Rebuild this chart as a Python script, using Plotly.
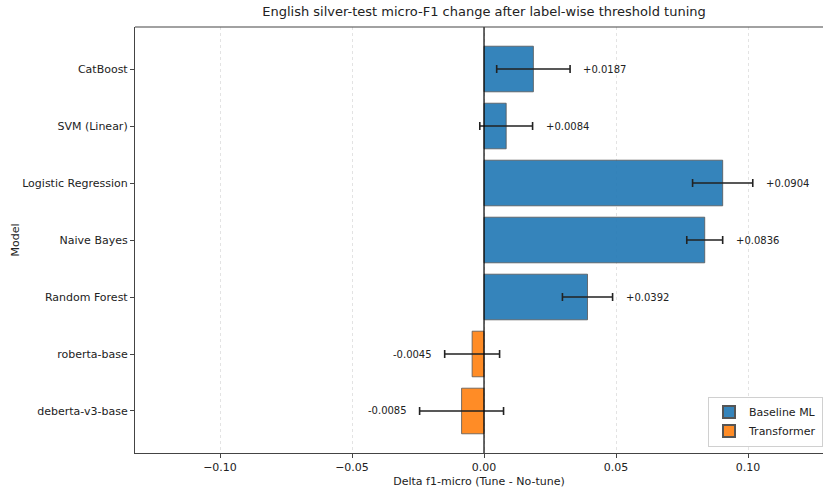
import plotly.graph_objects as go

# Models (top to bottom), their delta micro-F1 and error bar half-widths
models = ["CatBoost", "SVM (Linear)", "Logistic Regression", "Naive Bayes",
          "Random Forest", "roberta-base", "deberta-v3-base"]
delta = [0.0187, 0.0084, 0.0904, 0.0836, 0.0392, -0.0045, -0.0085]
err = [0.0139, 0.0100, 0.0114, 0.0068, 0.0095, 0.0104, 0.0159]
family = ["Baseline ML", "Baseline ML", "Baseline ML", "Baseline ML",
          "Baseline ML", "Transformer", "Transformer"]

colors = {"Baseline ML": "rgba(31,119,180,0.9)", "Transformer": "rgba(255,127,14,0.9)"}
FONT = "DejaVu Sans, sans-serif"

fig = go.Figure()
for fam in ["Baseline ML", "Transformer"]:
    idx = [i for i, f in enumerate(family) if f == fam]
    fig.add_trace(go.Bar(
        x=[delta[i] for i in idx],
        y=[models[i] for i in idx],
        orientation="h",
        name=fam,
        width=0.8,
        marker=dict(color=colors[fam], line=dict(color="#555555", width=0.8)),
        error_x=dict(type="data", array=[err[i] for i in idx],
                     color="#222222", thickness=1.6, width=4),
    ))

# value labels just beyond the error bar end
pad = 0.0042
for m, v, e in zip(models, delta, err):
    if v >= 0:
        fig.add_annotation(x=v + e + pad, y=m, text=f"{v:+.4f}", xanchor="left",
                           showarrow=False, font=dict(size=10, color="#222222", family=FONT))
    else:
        fig.add_annotation(x=v - e - pad, y=m, text=f"{v:+.4f}", xanchor="right",
                           showarrow=False, font=dict(size=10, color="#222222", family=FONT))

# zero reference line
fig.add_shape(type="line", x0=0, x1=0, y0=0, y1=1, xref="x", yref="paper",
              line=dict(color="black", width=1.2))

fig.update_layout(
    width=823, height=488,
    margin=dict(l=135, r=0, t=27, b=35, autoexpand=False),
    paper_bgcolor="white", plot_bgcolor="white",
    font=dict(family=FONT, size=11, color="#222222"),
    title=dict(text="English silver-test micro-F1 change after label-wise threshold tuning",
               x=484 / 823, xanchor="center", xref="container", y=0.985, yanchor="top",
               font=dict(size=13, family=FONT, color="#222222")),
    barmode="overlay",
    bargap=0.2,
    legend=dict(x=1.0, y=0.015, xanchor="right", yanchor="bottom",
                bgcolor="rgba(255,255,255,0.9)", bordercolor="#d0d0d0", borderwidth=1,
                font=dict(size=11, family=FONT), tracegroupgap=0,
                itemsizing="constant"),
    showlegend=True,
)

fig.update_xaxes(
    range=[-0.1322, 0.1284],
    tickvals=[-0.10, -0.05, 0.0, 0.05, 0.10],
    tickformat=".2f",
    showgrid=True, gridcolor="#e3e3e3", griddash="3px,3px", gridwidth=1,
    zeroline=False,
    showline=True, linecolor="#444444", linewidth=1.2,
    ticks="outside", ticklen=4, tickcolor="#444444",
    title=dict(text="Delta f1-micro (Tune - No-tune)", font=dict(size=11), standoff=6),
    tickfont=dict(size=11),
)
fig.update_yaxes(
    categoryorder="array", categoryarray=models,
    range=[6.737, -0.737],
    showgrid=False, zeroline=False,
    showline=True, linecolor="#444444", linewidth=1.2,
    ticks="outside", ticklen=4, tickcolor="#444444",
    title=dict(text="Model", font=dict(size=11), standoff=0),
    tickfont=dict(size=11),
)
# top spine
fig.add_shape(type="line", x0=0, x1=1, y0=1, y1=1, xref="paper", yref="paper",
              line=dict(color="#444444", width=1.2))

fig.write_html("out.html")
